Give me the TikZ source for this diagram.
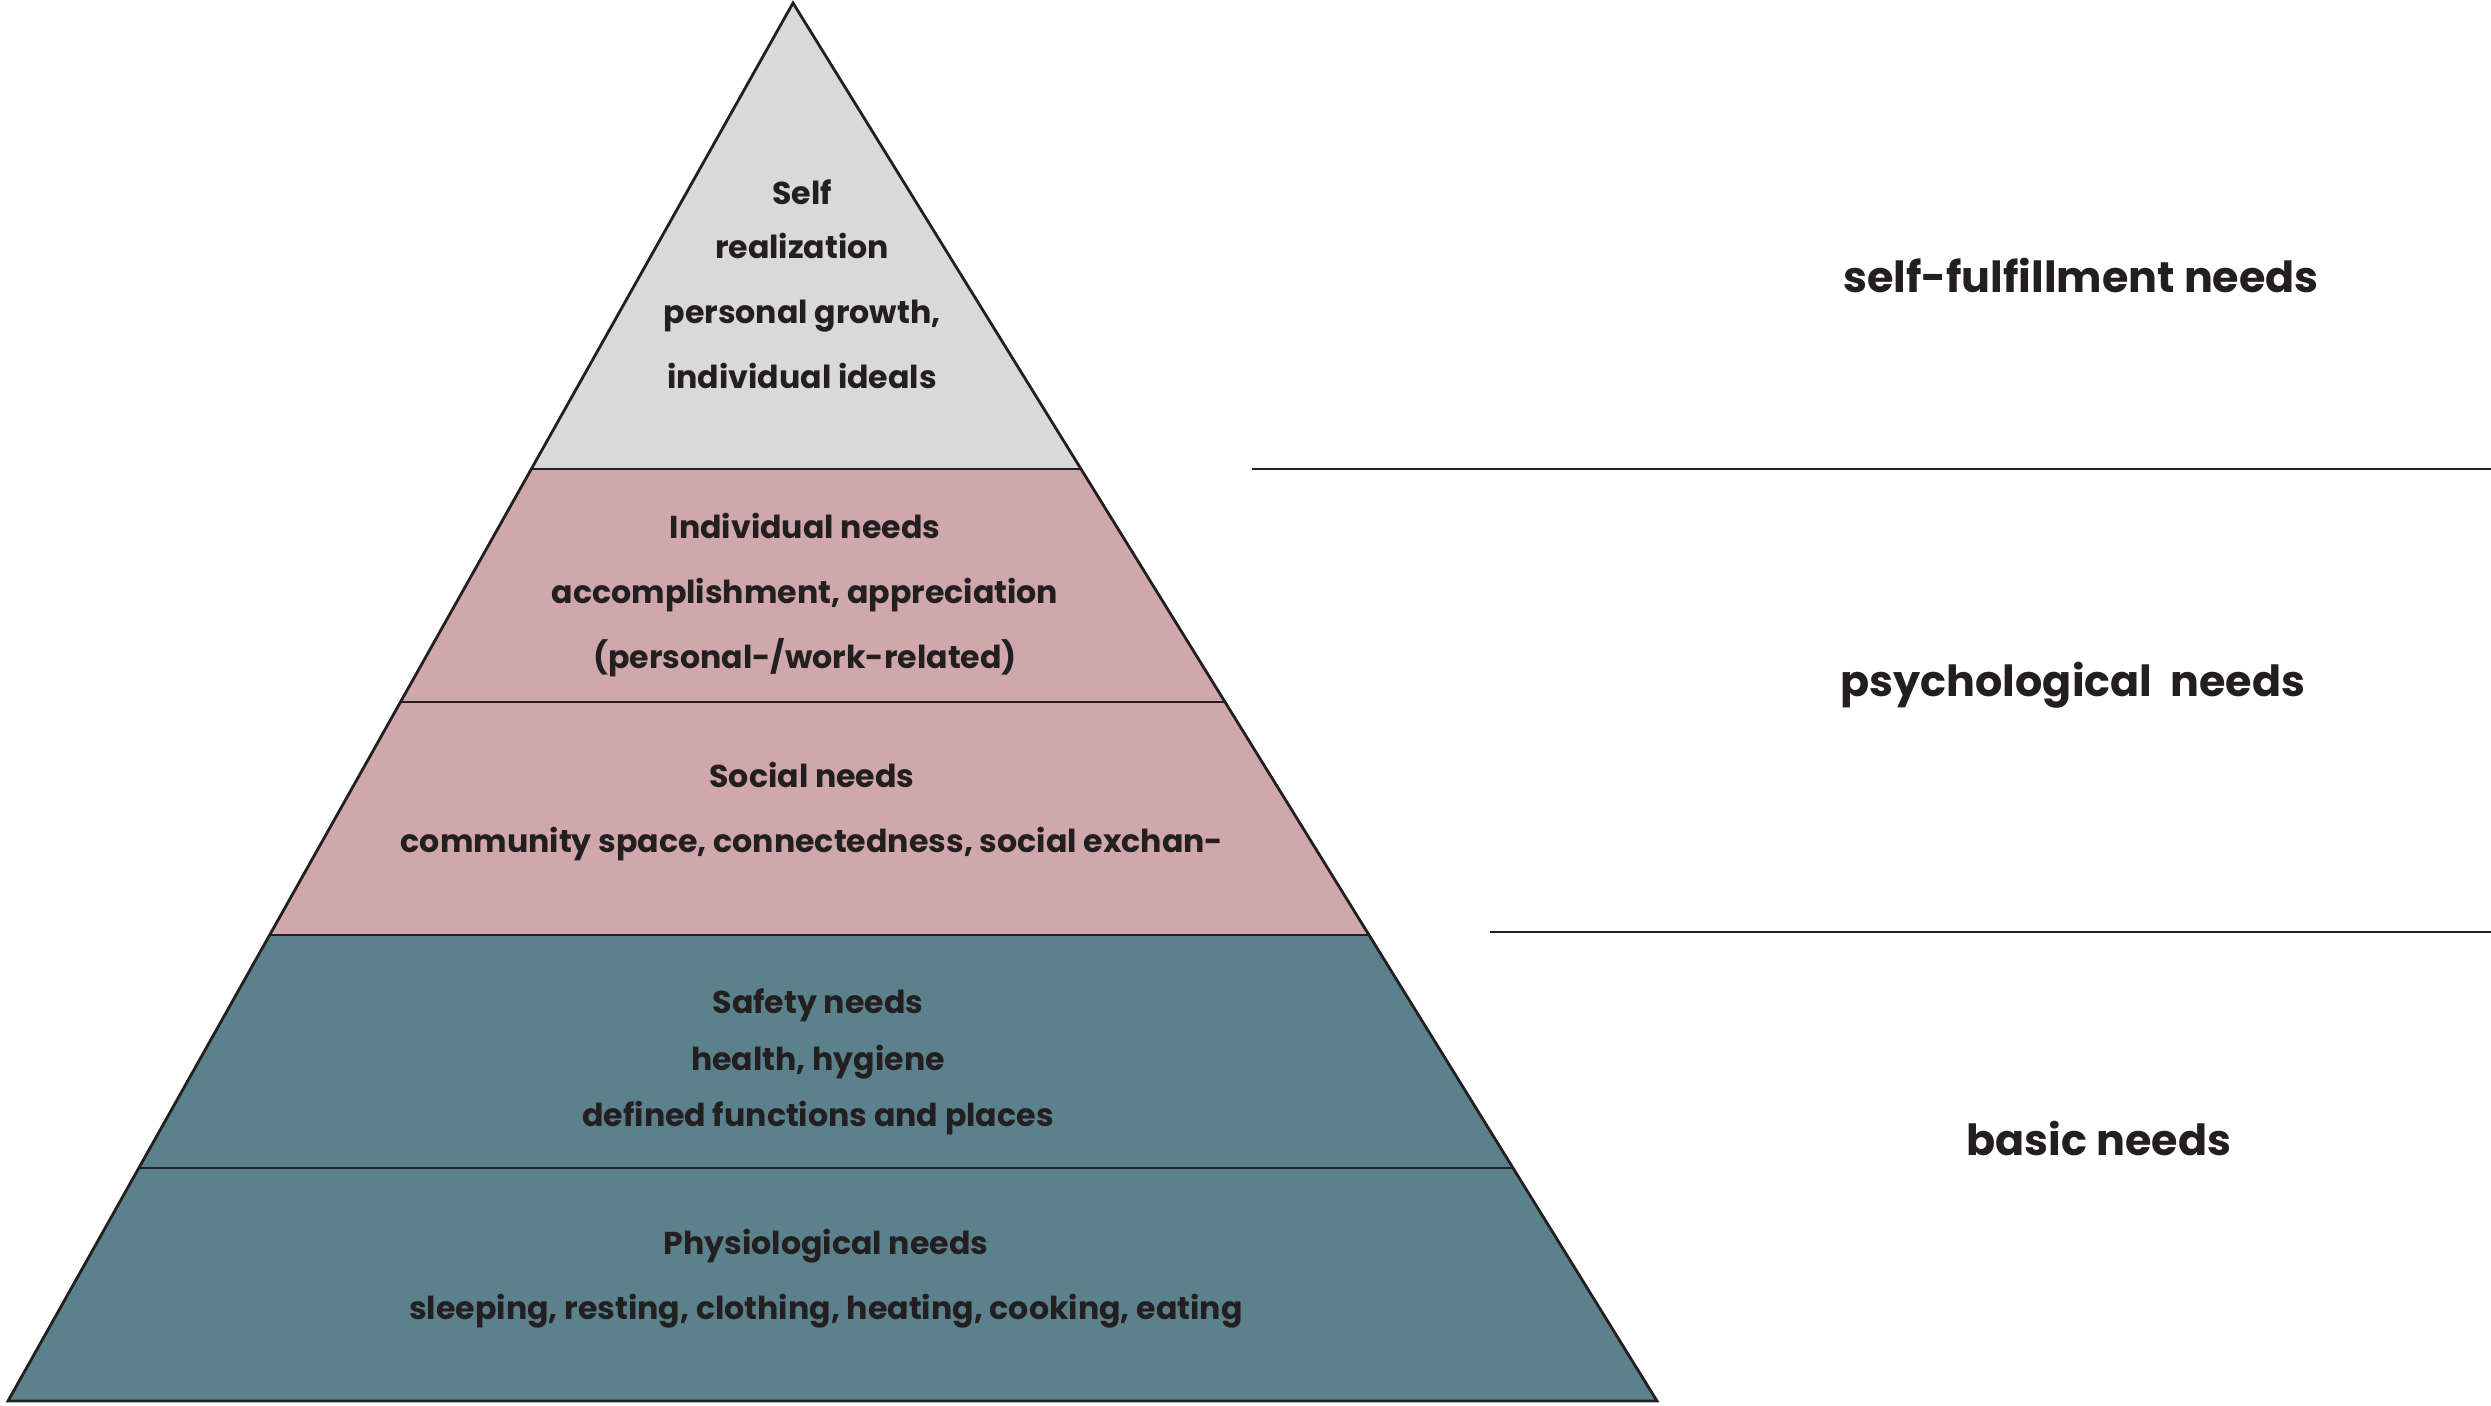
\documentclass[tikz,border=0pt]{standalone}
\usepackage{fontspec}
\setmainfont{Poppins}
\usetikzlibrary{calc}

\definecolor{topgray}{RGB}{217,217,217}
\definecolor{psypink}{RGB}{208,168,172}
\definecolor{basicteal}{RGB}{91,130,140}
\definecolor{inkdark}{RGB}{35,31,32}

\begin{document}
\begin{tikzpicture}[
    layer/.style={draw=inkdark, line width=0.8pt},
    lbl/.style={text=inkdark, align=center, inner sep=0pt,
        font=\bfseries\fontsize{9}{18.5}\selectfont},
    side/.style={text=inkdark, inner sep=0pt,
        font=\bfseries\fontsize{12.2}{14}\selectfont}
]
\useasboundingbox (0,0) rectangle (24.91,14.05);

% Corners of the pyramid
\coordinate (bl) at (0.08,0.04);
\coordinate (br) at (16.57,0.04);
\coordinate (apex) at (7.93,14.02);

% Level points on both edges
\foreach \i in {1,...,4}{
    \coordinate (l\i) at ($(bl)!\i/6!(apex)$);
    \coordinate (r\i) at ($(br)!\i/6!(apex)$);
}

% Layers
\fill[basicteal] (bl) -- (br) -- (r2) -- (l2) -- cycle;
\fill[psypink] (l2) -- (r2) -- (r4) -- (l4) -- cycle;
\fill[topgray] (l4) -- (r4) -- (apex) -- cycle;
\draw[layer] (bl) -- (br) -- (apex) -- cycle;
\foreach \i in {1,...,4}
    \draw[layer] (l\i) -- (r\i);

% Layer texts
\node[lbl] (selfreal) at (8.02,11.21)
    {Self\\[-3pt]realization\\personal growth,\\individual ideals};
\node[lbl] (indiv) at (8.05,8.10)
    {Individual needs\\accomplishment, appreciation\\(personal-/work-related)};
\node[lbl] (social) at (8.12,5.93)
    {Social needs\\community space, connectedness, social exchan-};
\node[lbl] (safety) at (8.18,3.43)
    {Safety needs\\[-2.5pt]health, hygiene\\[-2.5pt]defined functions and places};
\node[lbl] (physio) at (8.26,1.26)
    {Physiological needs\\sleeping, resting, clothing, heating, cooking, eating};

% Separators on the right
\coordinate (s1a) at (12.52,9.36);
\coordinate (s1b) at (24.91,9.36);
\coordinate (s2a) at (14.90,4.73);
\coordinate (s2b) at (24.91,4.73);
\draw[layer] (s1a) -- (s1b);
\draw[layer] (s2a) -- (s2b);

% Groups
\node[side] (fulfil) at (20.81,11.29) {self-fulfillment needs};
\node[side] (psych) at (20.73,7.20) {psychological\ \ needs};
\node[side] (basic) at (20.99,2.67) {basic needs};

\end{tikzpicture}
\end{document}
